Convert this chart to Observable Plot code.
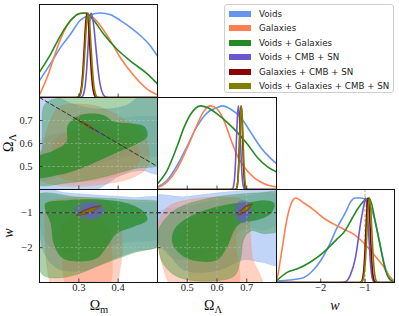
<!DOCTYPE html>
<html><head><meta charset="utf-8">
<script src="https://cdn.jsdelivr.net/npm/d3@7"></script>
<script src="https://cdn.jsdelivr.net/npm/@observablehq/plot@0.6"></script>
<style>
body{margin:0;background:#fff;}
#chart{position:relative;width:399px;height:316px;overflow:hidden;background:#fff;}
.lab{position:absolute;font-family:"Liberation Serif",serif;font-size:14px;line-height:14px;white-space:nowrap;color:#111;transform:translate(-50%,-50%);}
.sub{font-size:10.5px;position:relative;top:3px;}
#legend{position:absolute;left:224px;top:4px;width:168px;height:87px;border:1px solid #cfcfcf;border-radius:3px;background:#fff;font-family:"DejaVu Sans",sans-serif;font-size:8.7px;color:#222;}
.sw{position:absolute;left:4px;width:22px;height:6px;}
.tx{position:absolute;left:34px;white-space:nowrap;line-height:10px;}
</style></head><body><div id="chart"></div>
<script>
// ---------- series ----------
const seriesNames = ["Voids","Galaxies","Voids + Galaxies","Voids + CMB + SN","Galaxies + CMB + SN","Voids + Galaxies + CMB + SN"];
const seriesColors = ["#6495ED","#FF7F50","#228B22","#6A5ACD","#8B0000","#808000"];

// ---------- axes ----------
const omDomain = [0.2, 0.5];
const olDomain = [0.4, 0.8];
const wDomain = [-3, -0.3333];
const pdfDomain = [0, 1.1];
const omTicks = [0.3, 0.4];
const olTicks = [0.5, 0.6, 0.7];
const wTicks = [-2, -1];
const wRef = [-1];
const flatOm = [0.2, 0.5];
const flatOl = [0.8, 0.5];

// ---------- 1D: Omega_m ----------
const omVoidsX = [0.2,0.228,0.253,0.279,0.303,0.329,0.355,0.381,0.406,0.431,0.457,0.482,0.5];
const omVoidsY = [0.20,0.40,0.59,0.75,0.91,0.98,1.00,0.98,0.91,0.83,0.73,0.61,0.49];
const omGalX = [0.2,0.2195,0.2364,0.2534,0.2703,0.2872,0.3084,0.3296,0.355,0.3805,0.4058,0.4397,0.4736,0.5];
const omGalY = [0.03,0.24,0.47,0.69,0.85,0.95,1.0,0.97,0.85,0.67,0.47,0.26,0.10,0.03];
const omVGX = [0.2,0.228,0.253,0.279,0.300,0.317,0.338,0.363,0.397,0.44,0.474,0.5];
const omVGY = [0.30,0.51,0.73,0.91,0.99,1.0,0.91,0.75,0.57,0.40,0.28,0.16];
const omVCSX = [0.2,0.300,0.3085,0.3123,0.316,0.3198,0.3235,0.3273,0.331,0.337,0.343,0.349,0.355,0.361,0.367,0.375,0.5];
const omVCSY = [0,0,0.01,0.044,0.135,0.325,0.607,0.882,1,0.882,0.607,0.325,0.135,0.044,0.01,0,0];
const omGCSX = [0.2,0.292,0.300,0.3035,0.307,0.3105,0.314,0.3175,0.321,0.3245,0.328,0.3315,0.335,0.3385,0.342,0.35,0.5];
const omGCSY = [0,0,0.01,0.044,0.135,0.325,0.607,0.882,1,0.882,0.607,0.325,0.135,0.044,0.01,0,0];
const omAllX = [0.2,0.293,0.301,0.3048,0.3085,0.3123,0.316,0.3198,0.3235,0.3273,0.331,0.3348,0.3385,0.3423,0.346,0.354,0.5];
const omAllY = [0,0,0.01,0.044,0.135,0.325,0.607,0.882,1,0.882,0.607,0.325,0.135,0.044,0.01,0,0];

// ---------- 1D: Omega_Lambda ----------
const olVoidsX = [0.4,0.4326,0.4664,0.5,0.5339,0.5676,0.6014,0.6183,0.6464,0.68,0.714,0.7476,0.781,0.8];
const olVoidsY = [0.03,0.11,0.29,0.52,0.76,0.92,0.98,1.0,0.96,0.86,0.68,0.50,0.37,0.31];
const olGalX = [0.4,0.4326,0.4664,0.5,0.5339,0.5564,0.5789,0.6014,0.6239,0.6464,0.6689,0.6914,0.7251,0.7589,0.8];
const olGalY = [0.02,0.09,0.25,0.50,0.78,0.94,1.0,0.96,0.82,0.60,0.40,0.27,0.14,0.07,0.03];
const olVGX = [0.4,0.4326,0.4664,0.4889,0.5114,0.5451,0.5676,0.6014,0.6351,0.6689,0.7026,0.7364,0.7701,0.8];
const olVGY = [0.07,0.23,0.52,0.74,0.90,1.0,0.98,0.90,0.80,0.68,0.54,0.38,0.27,0.21];
const olVCSX = [0.4,0.645,0.6525,0.6558,0.659,0.6623,0.6655,0.6688,0.672,0.6753,0.6785,0.6818,0.685,0.6883,0.6915,0.699,0.8];
const olVCSY = [0,0,0.01,0.044,0.135,0.325,0.607,0.882,1,0.882,0.607,0.325,0.135,0.044,0.01,0,0];
const olGCSX = [0.4,0.66,0.6654,0.668,0.6706,0.6732,0.6758,0.6784,0.681,0.6836,0.6862,0.6888,0.6914,0.694,0.6966,0.702,0.8];
const olGCSY = [0,0,0.01,0.044,0.135,0.325,0.607,0.882,1,0.882,0.607,0.325,0.135,0.044,0.01,0,0];
const olAllX = [0.4,0.66,0.6652,0.668,0.6708,0.6736,0.6764,0.6792,0.682,0.6848,0.6876,0.6904,0.6932,0.696,0.6988,0.704,0.8];
const olAllY = [0,0,0.01,0.044,0.135,0.325,0.607,0.882,1,0.882,0.607,0.325,0.135,0.044,0.01,0,0];

// ---------- 1D: w ----------
const wVoidsX = [-3,-2.7,-2.38,-2.2,-2.0,-1.8,-1.63,-1.5,-1.42,-1.33,-1.22,-1.1,-1.02,-0.91,-0.80,-0.68,-0.57,-0.46,-0.3333];
const wVoidsY = [0.02,0.03,0.06,0.13,0.26,0.45,0.65,0.77,0.85,0.95,1.0,1.0,0.99,0.93,0.78,0.50,0.23,0.07,0.01];
const wGalX = [-3,-2.985,-2.87,-2.76,-2.645,-2.57,-2.38,-2.16,-1.93,-1.70,-1.48,-1.25,-1.03,-0.80,-0.57,-0.42,-0.3333];
const wGalY = [0.02,0.05,0.41,0.76,0.96,1.0,0.94,0.86,0.76,0.69,0.63,0.57,0.47,0.33,0.18,0.06,0.02];
const wVGX = [-3,-2.76,-2.54,-2.24,-1.95,-1.64,-1.44,-1.29,-1.14,-0.99,-0.91,-0.85,-0.76,-0.65,-0.54,-0.46,-0.3333];
const wVGY = [0.02,0.12,0.16,0.24,0.35,0.51,0.62,0.76,0.89,0.98,1.0,0.93,0.70,0.42,0.15,0.05,0.0];
const wVCSX = [-3,-1.55,-1.44,-1.33,-1.21,-1.10,-1.02,-0.99,-0.96,-0.93,-0.87,-0.83,-0.78,-0.3333];
const wVCSY = [0,0,0.01,0.09,0.31,0.70,0.93,1.0,0.92,0.70,0.19,0.04,0,0];
const wGCSX = [-3,-1.12,-1.08,-1.055,-1.03,-1.005,-0.98,-0.955,-0.93,-0.905,-0.88,-0.855,-0.83,-0.805,-0.78,-0.74,-0.3333];
const wGCSY = [0,0,0.01,0.044,0.135,0.325,0.607,0.882,1,0.882,0.607,0.325,0.135,0.044,0.01,0,0];
const wAllX = [-3,-1.11,-1.065,-1.0375,-1.01,-0.9825,-0.955,-0.9275,-0.9,-0.8725,-0.845,-0.8175,-0.79,-0.7625,-0.735,-0.69,-0.3333];
const wAllY = [0,0,0.01,0.044,0.135,0.325,0.607,0.882,1,0.882,0.607,0.325,0.135,0.044,0.01,0,0];

// ---------- 2D contours: Omega_m vs Omega_Lambda ----------
const mlVoids95 = [[0.19,0.81],[0.235,0.81],[0.28,0.775],[0.35,0.75],[0.42,0.765],[0.46,0.81],[0.51,0.81],[0.51,0.47],[0.457,0.483],[0.406,0.461],[0.372,0.425],[0.338,0.395],[0.19,0.39]];
const mlVoids68 = [[0.19,0.60],[0.28,0.66],[0.38,0.70],[0.46,0.72],[0.52,0.70],[0.52,0.55],[0.45,0.55],[0.36,0.52],[0.27,0.47],[0.19,0.44]];
const mlGal95 = [[0.211,0.599],[0.224,0.686],[0.249,0.758],[0.296,0.772],[0.355,0.758],[0.414,0.707],[0.465,0.642],[0.478,0.570],[0.474,0.497],[0.44,0.454],[0.372,0.425],[0.313,0.415],[0.25,0.418],[0.205,0.44],[0.2,0.512]];
const mlGal68 = [[0.236,0.613],[0.287,0.657],[0.355,0.664],[0.423,0.628],[0.457,0.555],[0.44,0.49],[0.372,0.446],[0.287,0.436],[0.241,0.468],[0.232,0.541]];
const mlVG95 = [[0.213,0.77],[0.253,0.80],[0.35,0.82],[0.52,0.82],[0.52,0.52],[0.44,0.49],[0.355,0.451],[0.27,0.428],[0.19,0.425],[0.19,0.54],[0.205,0.57],[0.207,0.65]];
const mlVG68 = [[0.19,0.535],[0.236,0.57],[0.268,0.605],[0.272,0.68],[0.30,0.722],[0.36,0.725],[0.39,0.695],[0.43,0.688],[0.468,0.672],[0.474,0.63],[0.44,0.592],[0.38,0.548],[0.313,0.497],[0.253,0.465],[0.19,0.455]];
const mlVCS95 = [[0.300,0.700],[0.318,0.688],[0.345,0.661],[0.372,0.628],[0.345,0.649],[0.318,0.676]];
const mlVCS68 = [[0.315,0.685],[0.33,0.673],[0.345,0.658],[0.36,0.640],[0.345,0.652],[0.33,0.667]];
const mlGCS95 = [[0.287,0.713],[0.305,0.701],[0.33,0.676],[0.348,0.652],[0.33,0.664],[0.305,0.689]];
const mlGCS68 = [[0.298,0.702],[0.31,0.693],[0.325,0.678],[0.337,0.663],[0.325,0.672],[0.31,0.687]];
const mlAll95 = [[0.293,0.707],[0.31,0.695],[0.33,0.675],[0.35,0.65],[0.33,0.665],[0.31,0.685]];
const mlAll68 = [[0.303,0.697],[0.315,0.688],[0.328,0.675],[0.34,0.66],[0.328,0.669],[0.315,0.682]];

// ---------- 2D contours: Omega_m vs w ----------
const blVoids95 = [[0.19,-0.32],[0.27,-0.43],[0.355,-0.50],[0.44,-0.56],[0.51,-0.61],[0.51,-1.9],[0.44,-2.11],[0.372,-2.40],[0.313,-2.66],[0.25,-2.62],[0.225,-2.4],[0.21,-2.1],[0.201,-1.69],[0.19,-1.2]];
const blVoids68 = [[0.19,-0.5],[0.3,-0.6],[0.42,-0.7],[0.51,-0.8],[0.51,-1.7],[0.42,-1.85],[0.33,-2.05],[0.26,-2.15],[0.22,-1.9],[0.2,-1.4],[0.19,-1.0]];
const blGal95 = [[0.215,-0.9],[0.225,-0.68],[0.262,-0.6],[0.321,-0.57],[0.37,-0.68],[0.397,-1.02],[0.41,-1.9],[0.405,-2.6],[0.39,-3.1],[0.235,-3.1],[0.22,-2.6],[0.215,-1.7]];
const blGal68 = [[0.26,-1.3],[0.3,-1.05],[0.345,-1.1],[0.375,-1.5],[0.385,-2.2],[0.375,-3.1],[0.27,-3.1],[0.258,-2.3]];
const blVG95 = [[0.19,-0.52],[0.3,-0.55],[0.42,-0.62],[0.52,-0.78],[0.52,-1.85],[0.44,-2.15],[0.355,-2.5],[0.30,-2.75],[0.25,-2.87],[0.21,-2.8],[0.19,-2.3]];
const blVG68 = [[0.215,-0.73],[0.27,-0.64],[0.355,-0.62],[0.423,-0.73],[0.465,-0.97],[0.474,-1.21],[0.44,-1.40],[0.397,-1.59],[0.372,-1.97],[0.347,-2.30],[0.304,-2.40],[0.258,-2.30],[0.236,-1.88],[0.228,-1.30],[0.215,-0.92]];
const blVCS95 = [[0.287,-0.95],[0.297,-0.78],[0.325,-0.68],[0.355,-0.74],[0.366,-0.93],[0.355,-1.12],[0.325,-1.2],[0.297,-1.1]];
const blVCS68 = [[0.31,-0.95],[0.317,-0.83],[0.333,-0.78],[0.348,-0.83],[0.353,-0.96],[0.346,-1.06],[0.332,-1.1],[0.316,-1.05]];
const blGCS95 = [[0.293,-1.08],[0.307,-0.953],[0.323,-0.874],[0.339,-0.813],[0.357,-0.80],[0.343,-0.927],[0.327,-1.006],[0.311,-1.067]];
const blGCS68 = [[0.303,-1.04],[0.3128,-0.9575],[0.3236,-0.905],[0.3348,-0.8625],[0.347,-0.85],[0.3372,-0.9325],[0.3264,-0.985],[0.3152,-1.0275]];
const blAll95 = [[0.297,-1.07],[0.3099,-0.964],[0.3242,-0.897],[0.3389,-0.844],[0.355,-0.83],[0.3421,-0.936],[0.3278,-1.003],[0.3131,-1.056]];
const blAll68 = [[0.306,-1.03],[0.315,-0.9595],[0.3249,-0.913],[0.335,-0.8745],[0.346,-0.86],[0.337,-0.9305],[0.3271,-0.977],[0.317,-1.0155]];

// ---------- 2D contours: Omega_Lambda vs w ----------
const bcVoids95 = [[0.38,-0.55],[0.489,-0.54],[0.601,-0.43],[0.714,-0.35],[0.82,-0.36],[0.82,-2.5],[0.75,-2.42],[0.69,-2.35],[0.601,-2.66],[0.489,-2.64],[0.43,-2.1],[0.38,-1.7]];
const bcVoids68 = [[0.40,-1.0],[0.5,-0.8],[0.6,-0.62],[0.7,-0.5],[0.8,-0.48],[0.82,-1.2],[0.76,-1.5],[0.7,-1.45],[0.62,-1.9],[0.52,-2.3],[0.45,-2.3],[0.40,-1.8]];
const bcGal95 = [[0.405,-1.2],[0.44,-0.8],[0.52,-0.6],[0.62,-0.55],[0.68,-0.62],[0.705,-0.9],[0.712,-1.6],[0.72,-2.3],[0.75,-3.1],[0.45,-3.1],[0.42,-2.6],[0.403,-1.9]];
const bcGal68 = [[0.5,-1.3],[0.56,-1.05],[0.63,-1.05],[0.66,-1.3],[0.665,-2.0],[0.67,-3.1],[0.52,-3.1],[0.5,-2.4]];
const bcVG95 = [[0.403,-1.5],[0.44,-1.05],[0.49,-0.78],[0.545,-0.64],[0.6,-0.54],[0.67,-0.47],[0.74,-0.43],[0.82,-0.45],[0.82,-1.45],[0.76,-1.6],[0.715,-1.52],[0.69,-1.75],[0.68,-2.3],[0.66,-2.8],[0.6,-2.95],[0.5,-2.92],[0.45,-2.75],[0.415,-2.4],[0.403,-1.95]];
const bcVG68 = [[0.455,-1.5],[0.489,-1.21],[0.545,-0.97],[0.601,-0.83],[0.658,-0.73],[0.714,-0.69],[0.759,-0.64],[0.793,-0.73],[0.781,-1.02],[0.736,-1.21],[0.68,-1.3],[0.658,-1.5],[0.635,-1.97],[0.601,-2.35],[0.545,-2.4],[0.489,-2.26],[0.45,-1.88]];
const bcVCS95 = [[0.658,-0.95],[0.664,-0.75],[0.685,-0.64],[0.708,-0.72],[0.716,-0.95],[0.706,-1.2],[0.686,-1.3],[0.665,-1.18]];
const bcVCS68 = [[0.672,-0.97],[0.676,-0.82],[0.689,-0.76],[0.702,-0.83],[0.706,-0.99],[0.700,-1.13],[0.688,-1.18],[0.676,-1.12]];
const bcGCS95 = [[0.669,-1.07],[0.6772,-0.936],[0.6893,-0.844],[0.7027,-0.766],[0.72,-0.73],[0.7117,-0.864],[0.6997,-0.956],[0.6862,-1.034]];
const bcGCS68 = [[0.676,-1.02],[0.6823,-0.9335],[0.6909,-0.871],[0.7003,-0.8185],[0.712,-0.79],[0.7057,-0.8765],[0.6971,-0.939],[0.6877,-0.9915]];
const bcAll95 = [[0.673,-1.04],[0.6801,-0.9335],[0.6903,-0.86],[0.7016,-0.7985],[0.716,-0.77],[0.7089,-0.8765],[0.6987,-0.95],[0.6874,-1.0115]];
const bcAll68 = [[0.68,-1.0],[0.685,-0.9295],[0.692,-0.878],[0.6996,-0.8345],[0.709,-0.81],[0.7039,-0.8805],[0.697,-0.932],[0.6895,-0.9755]];

// ---------- layout ----------
const cols = [{x: 39, w: 118}, {x: 157, w: 119}, {x: 276, w: 118}];
const rows = [{y: 4, h: 93}, {y: 97, h: 92}, {y: 189, h: 93}];
const chart = document.getElementById("chart");
const [cBlue, cOrange, cGreen, cPurple, cRed, cOlive] = seriesColors;

function curve(xs, ys, color) {
  return Plot.line(xs.map((x, i) => ({x, y: ys[i]})), {x: "x", y: "y", stroke: color, strokeWidth: 1.6, curve: "monotone-x", clip: true});
}
function region(pts, color, op, edge) {
  return Plot.line(pts, {x: d => d[0], y: d => d[1], fill: color, fillOpacity: op, stroke: edge ? color : "none", strokeOpacity: 0.3, strokeWidth: 0.6, curve: "catmull-rom-closed", clip: true});
}
function pair(p95, p68, color, o95, o68, edge) {
  return [region(p95, color, o95, edge), region(p68, color, o68, false)];
}
const fmt1 = d3.format(".1f");
const fmtInt = d3.format("d");

function place(col, row, o) {
  const c = cols[col], r = rows[row];
  const marks = [...o.under];
  if (o.grid) {
    marks.push(Plot.gridX(o.xTicks, {stroke: "#d0d0d0", strokeOpacity: 0.5, strokeWidth: 0.8, strokeDasharray: "2.5,2"}));
    marks.push(Plot.gridY(o.yTicks, {stroke: "#d0d0d0", strokeOpacity: 0.5, strokeWidth: 0.8, strokeDasharray: "2.5,2"}));
  }
  marks.push(...(o.over || []));
  marks.push(Plot.frame({stroke: "#111", strokeWidth: 1}));
  marks.push(Plot.tickX(o.xTicks, {x: d => d, insetTop: r.h - 3.5, stroke: "#222", strokeWidth: 0.8}));
  if (o.yTicks) marks.push(Plot.tickY(o.yTicks, {y: d => d, insetRight: c.w - 3.5, stroke: "#222", strokeWidth: 0.8}));
  if (o.xLabels) marks.push(Plot.axisX({ticks: o.xTicks, tickSize: 0, tickPadding: 1, tickFormat: o.xFmt, label: null, anchor: "bottom"}));
  if (o.yLabels) marks.push(Plot.axisY({ticks: o.yTicks, tickSize: 0, tickPadding: 7, tickFormat: o.yFmt, label: null, anchor: "left"}));
  const svg = Plot.plot({
    width: c.w, height: r.h, margin: 0,
    x: {domain: o.xd, axis: null},
    y: {domain: o.yd, axis: null},
    style: {overflow: "visible", background: "transparent", fontFamily: '"Liberation Serif", serif', fontSize: "10.5px", color: "#222"},
    marks
  });
  svg.style.position = "absolute";
  svg.style.left = c.x + "px";
  svg.style.top = r.y + "px";
  chart.appendChild(svg);
}

// top-left: Omega_m 1D
place(0, 0, {xd: omDomain, yd: pdfDomain, xTicks: omTicks, under: [
  curve(omVoidsX, omVoidsY, cBlue), curve(omGalX, omGalY, cOrange), curve(omVGX, omVGY, cGreen),
  curve(omVCSX, omVCSY, cPurple), curve(omGCSX, omGCSY, cRed), curve(omAllX, omAllY, cOlive)]});

function bigSet(v95, v68, g95, g68, vg95, vg68) {
  return [...pair(v95, v68, cBlue, 0.4, 0.2, true), ...pair(g95, g68, cOrange, 0.35, 0.3, true), ...pair(vg95, vg68, cGreen, 0.38, 0.72, true)];
}
function smallSet(a95, a68, b95, b68, c95, c68) {
  return [...pair(a95, a68, cPurple, 0.5, 0.7, false), ...pair(b95, b68, cRed, 0.45, 0.7, false), ...pair(c95, c68, cOlive, 0.55, 0.8, false)];
}

// middle-left: Omega_m vs Omega_Lambda
place(0, 1, {xd: omDomain, yd: olDomain, xTicks: omTicks, yTicks: olTicks, grid: true, yLabels: true, yFmt: fmt1,
  under: [...bigSet(mlVoids95, mlVoids68, mlGal95, mlGal68, mlVG95, mlVG68), ...smallSet(mlVCS95, mlVCS68, mlGCS95, mlGCS68, mlAll95, mlAll68)],
  over: [Plot.line(flatOm.map((x, i) => ({x, y: flatOl[i]})), {x: "x", y: "y", stroke: "#333", strokeWidth: 1, strokeDasharray: "4,2.5", clip: true})]});

// bottom-left: Omega_m vs w
place(0, 2, {xd: omDomain, yd: wDomain, xTicks: omTicks, yTicks: wTicks, grid: true, xLabels: true, yLabels: true, xFmt: fmt1, yFmt: fmtInt,
  under: [...bigSet(blVoids95, blVoids68, blGal95, blGal68, blVG95, blVG68), ...smallSet(blVCS95, blVCS68, blGCS95, blGCS68, blAll95, blAll68)],
  over: [Plot.ruleY(wRef, {stroke: "#333", strokeWidth: 1, strokeDasharray: "4,2.5"})]});

// middle-center: Omega_Lambda 1D
place(1, 1, {xd: olDomain, yd: pdfDomain, xTicks: olTicks, under: [
  curve(olVoidsX, olVoidsY, cBlue), curve(olGalX, olGalY, cOrange), curve(olVGX, olVGY, cGreen),
  curve(olVCSX, olVCSY, cPurple), curve(olGCSX, olGCSY, cRed), curve(olAllX, olAllY, cOlive)]});

// bottom-center: Omega_Lambda vs w
place(1, 2, {xd: olDomain, yd: wDomain, xTicks: olTicks, yTicks: wTicks, grid: true, xLabels: true, xFmt: fmt1,
  under: [...bigSet(bcVoids95, bcVoids68, bcGal95, bcGal68, bcVG95, bcVG68), ...smallSet(bcVCS95, bcVCS68, bcGCS95, bcGCS68, bcAll95, bcAll68)],
  over: [Plot.ruleY(wRef, {stroke: "#333", strokeWidth: 1, strokeDasharray: "4,2.5"})]});

// bottom-right: w 1D
place(2, 2, {xd: wDomain, yd: pdfDomain, xTicks: wTicks, xLabels: true, xFmt: fmtInt, under: [
  Plot.ruleX(wRef, {stroke: "#aaa", strokeWidth: 1, strokeDasharray: "3,2"}),
  curve(wVoidsX, wVoidsY, cBlue), curve(wGalX, wGalY, cOrange), curve(wVGX, wVGY, cGreen),
  curve(wVCSX, wVCSY, cPurple), curve(wGCSX, wGCSY, cRed), curve(wAllX, wAllY, cOlive)]});

// axis labels
function label(html, cx, cy, rotate) {
  const d = document.createElement("div");
  d.className = "lab";
  d.innerHTML = html;
  d.style.left = cx + "px";
  d.style.top = cy + "px";
  if (rotate) d.style.transform = "translate(-50%,-50%) rotate(-90deg)";
  chart.appendChild(d);
}
label('Ω<span class="sub">m</span>', 99, 305.5);
label('Ω<span class="sub">Λ</span>', 213, 305.5);
label('<i>w</i>', 335, 305.5);
label('Ω<span class="sub">Λ</span>', 8.6, 143, true);
label('<i>w</i>', 8.6, 233, true);

// legend
const legend = document.createElement("div");
legend.id = "legend";
seriesNames.forEach((name, i) => {
  const cy = 8.7 + 14.45 * i;
  const sw = document.createElement("div");
  sw.className = "sw"; sw.style.top = (cy - 3) + "px"; sw.style.background = seriesColors[i];
  const tx = document.createElement("div");
  tx.className = "tx"; tx.style.top = (cy - 4.9) + "px"; tx.textContent = name;
  legend.appendChild(sw); legend.appendChild(tx);
});
chart.appendChild(legend);
</script></body></html>
